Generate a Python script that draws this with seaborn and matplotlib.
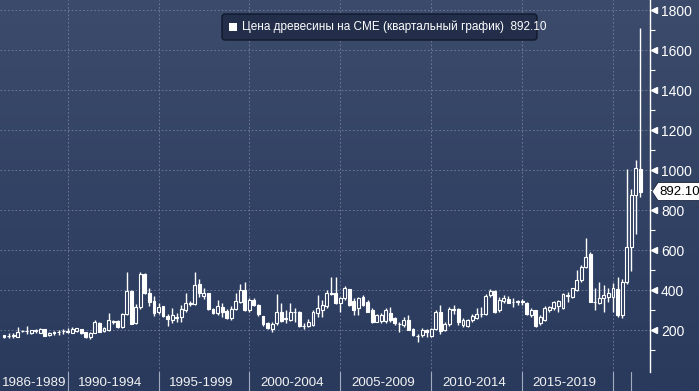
import numpy as np
import pandas as pd
import matplotlib
matplotlib.use("Agg")
import matplotlib.pyplot as plt
import seaborn as sns
from matplotlib.patches import Polygon, FancyBboxPatch, Rectangle
from matplotlib.transforms import blended_transform_factory, IdentityTransform
from matplotlib.colors import to_rgb

# ---------------- data (quarterly OHLC, lumber futures CME) ----------------
first_quarter = "1986Q2"
last_quarter = "2021Q2"

opens = [175, 168, 170, 165, 193, 194, 185, 196, 187, 203, 173, 186, 189, 194, 192,
         187, 193, 203, 190, 163, 187, 237, 195, 200, 240, 245, 215, 280, 395, 237,
         313, 478, 383, 345, 292, 318, 272, 252, 262, 265, 300, 335, 330, 430, 368,
         383, 305, 285, 317, 295, 258, 305, 340, 400, 300, 352, 325, 268, 235, 205,
         233, 292, 255, 250, 292, 290, 218, 222, 225, 285, 300, 320, 378, 383, 335,
         358, 403, 345, 308, 365, 340, 300, 242, 245, 245, 283, 258, 232, 225, 250,
         205, 172, 175, 198, 172, 205, 290, 200, 228, 305, 305, 225, 220, 248, 262,
         282, 280, 375, 395, 300, 343, 357, 340, 340, 343, 335, 276, 300, 235, 252,
         300, 310, 318, 310, 372, 367, 400, 450, 517, 580, 342, 335, 358, 367, 367,
         403, 275, 440, 617, 875, 1005]
highs = [177, 183, 183, 213, 200, 220, 202, 203, 210, 205, 190, 197, 200, 203, 208,
         217, 210, 205, 192, 190, 250, 240, 213, 283, 252, 250, 285, 492, 400, 330,
         490, 485, 408, 370, 337, 322, 280, 308, 283, 325, 383, 345, 490, 453, 408,
         385, 310, 350, 337, 305, 320, 383, 430, 442, 358, 360, 330, 272, 240, 240,
         378, 335, 300, 333, 308, 295, 235, 255, 300, 375, 350, 400, 467, 467, 365,
         420, 405, 358, 367, 375, 350, 308, 278, 283, 308, 317, 267, 242, 267, 275,
         210, 178, 208, 205, 210, 298, 325, 238, 315, 325, 312, 258, 255, 282, 310,
         317, 378, 405, 400, 363, 375, 370, 358, 350, 353, 340, 308, 302, 275, 318,
         322, 345, 350, 385, 392, 412, 500, 525, 658, 590, 408, 442, 425, 408, 433,
         467, 455, 1005, 905, 1050, 1711]
lows = [162, 158, 160, 163, 188, 180, 180, 185, 185, 168, 170, 173, 177, 180, 187,
        185, 190, 180, 158, 157, 183, 188, 192, 195, 232, 212, 212, 275, 228, 232,
        305, 380, 318, 268, 280, 265, 218, 235, 240, 242, 292, 320, 325, 367, 353,
        300, 278, 275, 267, 255, 252, 300, 333, 295, 292, 318, 272, 222, 205, 192,
        225, 238, 235, 245, 242, 215, 205, 215, 218, 265, 267, 308, 375, 330, 292,
        350, 320, 275, 275, 320, 288, 233, 240, 233, 233, 242, 225, 192, 217, 198,
        172, 142, 167, 165, 165, 200, 178, 195, 222, 282, 225, 215, 213, 240, 255,
        265, 275, 365, 285, 292, 333, 333, 317, 325, 325, 275, 267, 215, 225, 247,
        290, 300, 292, 305, 342, 360, 395, 440, 510, 338, 300, 330, 292, 342, 292,
        265, 260, 430, 495, 680, 865]
closes = [165, 171, 174, 192, 196, 196, 200, 198, 205, 170, 187, 188, 191, 196, 194,
          203, 208, 183, 167, 187, 242, 192, 208, 250, 243, 215, 280, 395, 232, 313,
          478, 385, 342, 285, 317, 268, 255, 275, 265, 303, 333, 328, 425, 383, 383,
          305, 285, 318, 288, 260, 305, 345, 402, 300, 350, 325, 278, 228, 210, 232,
          290, 243, 262, 292, 290, 218, 220, 238, 290, 310, 325, 383, 385, 335, 358,
          408, 325, 300, 358, 325, 292, 242, 275, 275, 300, 250, 233, 228, 250, 200,
          175, 170, 200, 192, 205, 290, 195, 230, 305, 300, 240, 250, 250, 272, 280,
          280, 372, 395, 292, 350, 358, 337, 342, 343, 340, 278, 300, 218, 267, 312,
          317, 340, 345, 382, 375, 408, 450, 517, 567, 342, 340, 362, 375, 387, 408,
          275, 440, 617, 875, 1008, 892.10]

period_labels = ["1986-1989", "1990-1994", "1995-1999", "2000-2004",
                 "2005-2009", "2010-2014", "2015-2019"]
segment_starts = [1986, 1990, 1995, 2000, 2005, 2010, 2015]
segment_ends = [1990, 1995, 2000, 2005, 2010, 2015, 2020]
separator_years = [1990, 1995, 2000, 2005, 2010, 2015, 2020, 2021]
y_major = [200, 400, 600, 800, 1000, 1200, 1400, 1600, 1800]
y_minor = [100, 300, 500, 700, 900, 1100, 1300, 1500, 1700]
last_price = 892.10
legend_text = "Цена древесины на CME (квартальный график)  892.10"

# ---------------- frame ----------------
periods = pd.period_range(first_quarter, last_quarter, freq="Q")
df = pd.DataFrame({
    "t": periods.year + periods.quarter / 4.0,   # plotted at quarter end
    "open": opens, "high": highs, "low": lows, "close": closes,
})
df["up"] = df["close"] >= df["open"]

sns.set_theme(style="dark")
plt.rcParams["font.family"] = ["Liberation Sans", "DejaVu Sans"]

W, H = 699, 391
fig = plt.figure(figsize=(W / 100, H / 100), dpi=100)

# gradient background across whole figure
bg = fig.add_axes([0, 0, 1, 1], zorder=0)
top_c = np.array(to_rgb("#3c4b6b"))
bot_c = np.array(to_rgb("#293a5d"))
g = np.linspace(0, 1, 256)[:, None, None]
img = top_c * (1 - g) + bot_c * g
bg.imshow(img, aspect="auto", extent=[0, 1, 0, 1], origin="upper")
bg.set_axis_off()

plot_bottom_px = 372
ax = fig.add_axes([0, (H - plot_bottom_px) / H, 650 / W, plot_bottom_px / H], zorder=1)
ax.patch.set_alpha(0)

px_per_year = 18.18
x_left = 2020 - 613 / px_per_year
x_right = 2020 + 37 / px_per_year
ax.set_xlim(x_left, x_right)
ax.set_ylim(-10, 1850)

grid_kw = dict(color="#7480a0", lw=0.6, ls=(0, (2, 2.5)), zorder=1)
for v in y_major:
    ax.axhline(v, **grid_kw)
for yv in range(1990, 2021, 5):
    ax.axvline(yv, **grid_kw)

# candles
hollow_face = "#2f3e60"
width = 0.16
ax.vlines(df["t"], df["low"], df["high"], color="white", lw=1.0, zorder=3)
bottoms = np.minimum(df["open"], df["close"])
heights = np.maximum((df["close"] - df["open"]).abs(), 1.5)
up = df["up"].values
ax.bar(df["t"][up], heights[up], bottom=bottoms[up], width=width,
       facecolor=hollow_face, edgecolor="white", lw=0.8, zorder=4)
ax.bar(df["t"][~up], heights[~up], bottom=bottoms[~up], width=width,
       facecolor="white", edgecolor="white", lw=0.8, zorder=4)

# axes styling
for s in ["left", "top", "bottom"]:
    ax.spines[s].set_visible(False)
ax.spines["right"].set_visible(True)
ax.spines["right"].set_color("white")
ax.spines["right"].set_linewidth(1.0)
ax.grid(False)
ax.set_xticks([])
ax.yaxis.tick_right()
ax.set_yticks(y_major)
ax.set_yticks(y_minor, minor=True)
ax.set_yticklabels([str(v) for v in y_major])
ax.tick_params(axis="y", which="major", length=0, pad=8, labelcolor="white",
               labelsize=10)
ax.tick_params(axis="y", which="minor", length=3.5, width=0.8, color="white",
               direction="out")
ax.tick_params(axis="y", which="both", right=True, left=False)

# triangular major tick markers
tri_tr = blended_transform_factory(ax.transAxes, ax.transData)
ax.plot([1 + 4 / 650] * len(y_major), y_major, ls="none", marker="<", ms=5,
        color="white", transform=tri_tr, clip_on=False, zorder=5)

# x labels and separators in bottom band
band_tr = blended_transform_factory(ax.transData, ax.transAxes)
for i, (lab, s0, s1) in enumerate(zip(period_labels, segment_starts, segment_ends)):
    c = (max(s0, x_left) + s1) / 2 - (0.0 if i == 0 else 0.15)
    ax.text(c, -11 / plot_bottom_px, lab, transform=band_tr, ha="center",
            va="center", color="#f2f2f2", fontsize=9.6, clip_on=False)
for sy in separator_years:
    ax.plot([sy, sy], [0, -19 / plot_bottom_px], transform=band_tr,
            color="#a3abc0", lw=0.8, clip_on=False)

# price tag
def yp(y_img):
    return H - y_img

ty = ax.transData.transform((x_right, last_price))[1]
tag = Polygon([(652, ty), (658, ty + 9), (W + 2, ty + 9), (W + 2, ty - 9), (658, ty - 9)],
              closed=True, facecolor="white", edgecolor="#1c2540", lw=0.6,
              transform=IdentityTransform(), zorder=10)
fig.add_artist(tag)
fig.text(659 / W, ty / H, f"{last_price:.2f}", color="black", fontsize=9.5,
         ha="left", va="center", zorder=11)

# legend box
box = FancyBboxPatch((222, yp(40)), 315, 26,
                     boxstyle="round,pad=0,rounding_size=3",
                     facecolor="#232e4a", edgecolor="#11182a", lw=1.0,
                     transform=IdentityTransform(), zorder=10)
fig.add_artist(box)
sq = Rectangle((229, yp(31)), 8, 8, facecolor="white", edgecolor="none",
               transform=IdentityTransform(), zorder=11)
fig.add_artist(sq)
fig.text(242 / W, yp(27) / H, legend_text, color="white", fontsize=8.5,
         ha="left", va="center", zorder=12)

fig.savefig("out.png", dpi=100)
